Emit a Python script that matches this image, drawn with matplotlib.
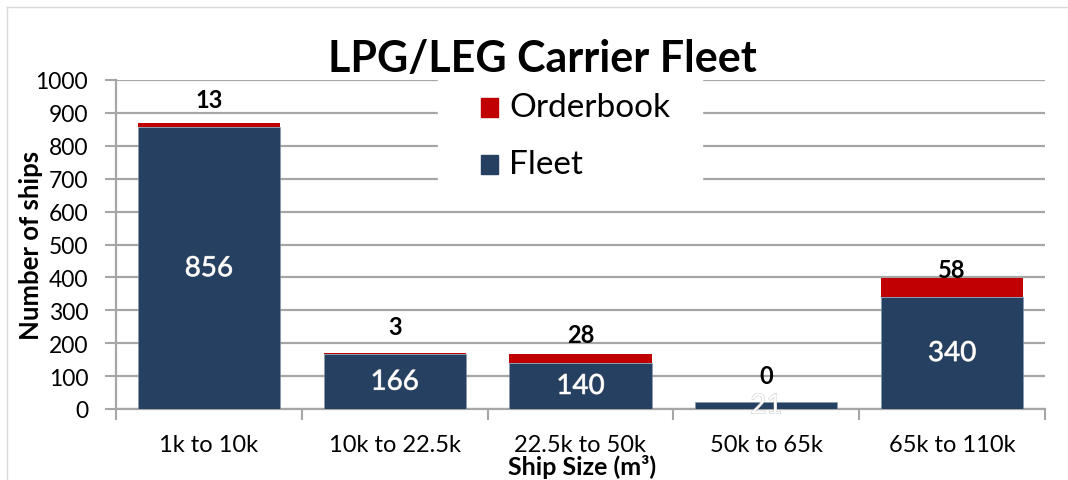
import matplotlib
matplotlib.use('Agg')
from matplotlib import pyplot as plt
from matplotlib.lines import Line2D
from matplotlib.patches import Rectangle
import matplotlib.patheffects as pe
import numpy as np

plt.rcParams['font.family'] = ['Lato', 'DejaVu Sans']

#%% Datos

categorias = ['1k to 10k', '10k to 22.5k', '22.5k to 50k', '50k to 65k', '65k to 110k']
fleet = [856, 166, 140, 21, 340]
orderbook = [13, 3, 28, 0, 58]

# desplazamiento (en pt) de las etiquetas del orderbook sobre la barra
off_ob = [17, 19.5, 14, 19.5, 6.5]

c_fleet = '#264061'
c_ob = '#C00000'
c_grid = '#A6A6A6'

W, H = 1068, 481
fig = plt.figure(figsize=(W/100, H/100), dpi=100)
ax = fig.add_axes([116/W, 1-410/H, (1045-116)/W, (410-81)/H])

x = np.arange(len(categorias))
ax.bar(x, fleet, width=0.765, color=c_fleet, edgecolor='#8497B0', linewidth=0.4, zorder=3)
ax.bar(x, orderbook, bottom=fleet, width=0.765, color=c_ob, linewidth=0, zorder=3)

sombra = [pe.withStroke(linewidth=0.6, foreground='#BFBFBF')]
for i in range(len(x)):
    ax.text(x[i], fleet[i]/2, str(fleet[i]), ha='center', va='center', color='white',
            fontsize=20, zorder=4, path_effects=sombra)
    ax.annotate(str(orderbook[i]), (x[i], fleet[i]+orderbook[i]), xytext=(0, off_ob[i]),
                textcoords='offset points', ha='center', va='center', fontsize=17,
                fontweight='bold', zorder=4)

ax.set_xlim(-0.5, len(x)-0.5)
ax.set_ylim(0, 1000)
ax.set_yticks(range(0, 1001, 100))
ax.tick_params(axis='y', labelsize=16.5, length=8, width=1.5, color=c_grid, pad=12)
ax.yaxis.grid(True, color=c_grid, linewidth=1.6)
ax.set_axisbelow(True)

ax.set_xticks(x)
ax.set_xticklabels(categorias)
ax.set_xticks(np.arange(-0.5, len(x)), minor=True)
ax.tick_params(axis='x', which='major', length=0, labelsize=17, pad=18)
ax.tick_params(axis='x', which='minor', length=8, width=1.5, color=c_grid)

for s in ['top', 'right']:
    ax.spines[s].set_visible(False)
for s in ['left', 'bottom']:
    ax.spines[s].set_color(c_grid)
    ax.spines[s].set_linewidth(1.6)

fig.text(31/W, 1-245/H, 'Number of ships', rotation=90, ha='center', va='center',
         fontsize=18.5, fontweight='bold')
fig.text(582/W, 1-467/H, 'Ship Size (m³)', ha='center', va='center', fontsize=18, fontweight='bold')

fig.text(542/W, 1-59/H, 'LPG/LEG Carrier Fleet', ha='center', va='center', fontsize=31, fontweight='bold')

# leyenda
fig.add_artist(Rectangle((438/W, 1-196/H), (702-438)/W, (196-78)/H, color='white',
                         transform=fig.transFigure, zorder=1))
for nombre, color, yc in [('Orderbook', c_ob, 108), ('Fleet', c_fleet, 165)]:
    fig.add_artist(Rectangle((481/W, 1-(yc+9.5)/H), 17/W, 19/H, color=color,
                             transform=fig.transFigure, zorder=2))
    fig.text(509/W, 1-yc/H, nombre, ha='left', va='center', fontsize=24, zorder=2)

# marco del grafico
fig.add_artist(Line2D([7/W, 7/W], [0, 1-8/H], color='#D9D9D9', linewidth=1, transform=fig.transFigure))
fig.add_artist(Line2D([7/W, 1], [1-8/H, 1-8/H], color='#D9D9D9', linewidth=1, transform=fig.transFigure))

fig.savefig('out.png', dpi=100)
